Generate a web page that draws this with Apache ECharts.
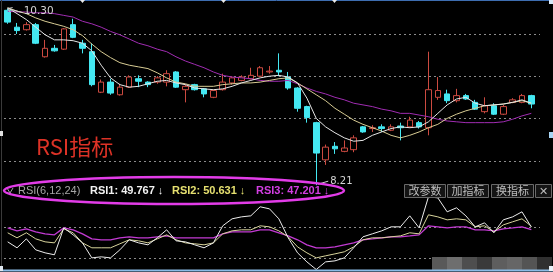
<!DOCTYPE html>
<html><head><meta charset="utf-8">
<script src="https://cdn.jsdelivr.net/npm/echarts@6/dist/echarts.min.js"></script>
<style>html,body{margin:0;padding:0;background:#000;overflow:hidden}#c{width:553px;height:272px}</style>
</head><body><div id="c"></div>
<script>
// ---- data ----
// candles: [open, close, low, high]
const candles = [
[10.28,10.14,10.12,10.30],[10.08,10.04,10.00,10.13],[10.05,10.11,10.04,10.14],[10.11,9.89,9.88,10.13],[9.73,9.83,9.72,9.93],
[9.83,9.80,9.79,9.87],[9.82,10.06,9.81,10.07],[10.11,9.96,9.95,10.18],[9.89,9.83,9.77,9.93],[9.79,9.40,9.38,9.89],
[9.31,9.43,9.30,9.46],[9.43,9.30,9.28,9.47],[9.28,9.37,9.27,9.41],[9.37,9.49,9.36,9.51],[9.47,9.44,9.37,9.51],
[9.43,9.40,9.37,9.44],[9.43,9.48,9.41,9.50],[9.43,9.53,9.38,9.57],[9.55,9.37,9.36,9.56],[9.34,9.38,9.19,9.40],
[9.40,9.34,9.33,9.41],[9.35,9.29,9.25,9.36],[9.25,9.33,9.24,9.34],[9.34,9.43,9.33,9.53],[9.42,9.48,9.40,9.50],
[9.45,9.49,9.44,9.51],[9.47,9.51,9.46,9.60],[9.50,9.60,9.49,9.62],[9.55,9.56,9.53,9.62],[9.57,9.55,9.50,9.77],
[9.49,9.36,9.34,9.55],[9.36,9.12,9.08,9.37],[9.14,9.01,8.95,9.15],[8.95,8.59,8.21,8.96],[8.51,8.66,8.45,8.69],
[8.67,8.64,8.58,8.72],[8.61,8.65,8.60,8.74],[8.63,8.77,8.60,8.80],[8.90,8.84,8.83,8.91],[8.88,8.89,8.84,8.92],
[8.90,8.88,8.84,8.93],[8.86,8.90,8.85,8.93],[8.91,8.89,8.74,8.95],[8.90,8.98,8.89,9.02],[8.95,8.90,8.88,8.97],
[8.89,9.34,8.80,9.79],[9.25,9.33,9.22,9.49],[9.29,9.21,9.18,9.34],[9.21,9.27,9.19,9.35],[9.27,9.23,9.22,9.29],
[9.19,9.11,9.10,9.22],[9.08,9.15,9.06,9.25],[9.15,9.05,9.04,9.18],[9.05,9.14,9.04,9.16],[9.19,9.22,9.18,9.24],
[9.19,9.27,9.18,9.29],[9.27,9.17,9.12,9.28]
];
const ma5 = [10.31,10.24,10.17,10.08,9.99,9.93,9.93,9.92,9.89,9.80,
9.63,9.48,9.40,9.37,9.38,9.41,9.44,9.45,9.42,9.40,
9.36,9.35,9.34,9.35,9.38,9.42,9.45,9.48,9.50,9.51,
9.49,9.42,9.24,9.00,8.90,8.83,8.77,8.73,8.74,8.80,
8.84,8.88,8.90,8.89,8.90,8.96,9.06,9.16,9.23,9.25,
9.18,9.15,9.16,9.17,9.19,9.22,9.18];
const ma10 = [10.31,10.27,10.24,10.19,10.15,10.12,10.09,10.05,9.98,9.88,
9.79,9.72,9.66,9.63,9.61,9.59,9.54,9.48,9.43,9.41,
9.38,9.38,9.38,9.40,9.41,9.42,9.42,9.43,9.45,9.47,
9.48,9.42,9.35,9.28,9.21,9.12,9.05,8.98,8.93,8.89,
8.85,8.80,8.77,8.80,8.84,8.89,8.93,9.00,9.05,9.09,
9.12,9.15,9.16,9.17,9.19,9.21,9.18];
const ma30 = [10.27,10.26,10.26,10.25,10.25,10.24,10.22,10.20,10.15,10.12,
10.08,10.03,9.99,9.94,9.89,9.86,9.82,9.79,9.73,9.68,
9.64,9.60,9.55,9.51,9.49,9.48,9.47,9.45,9.44,9.44,
9.45,9.41,9.36,9.32,9.29,9.25,9.22,9.18,9.16,9.14,
9.11,9.09,9.06,9.06,9.04,9.02,8.99,8.97,8.96,8.95,
8.95,8.95,8.95,8.96,8.99,9.03,9.06];
const rsi1 = [35.4,29.6,38.3,27.6,24.7,22.8,49.0,42.2,34.4,19.8,
20.8,19.8,27.6,37.4,34.4,32.5,39.3,47.1,36.4,35.4,
32.5,29.6,34.4,51.0,57.8,59.7,60.7,69.5,67.5,57.8,
39.3,24.7,15.9,8.5,15.9,16.9,19.8,29.6,40.3,43.2,
46.1,50.0,50.0,60.7,49.0,79.2,78.2,64.6,68.5,60.7,
50.0,53.9,44.2,56.8,59.7,64.6,49.8];
const rsi2 = [44.2,39.3,44.2,38.3,35.4,34.4,48.1,44.2,34.4,29.6,
29.6,29.6,33.5,37.4,36.4,34.4,38.3,42.2,37.4,34.4,
33.5,32.5,34.4,43.2,46.1,47.1,47.1,51.0,50.0,46.1,
40.3,30.5,24.7,19.8,21.8,23.7,25.7,30.5,37.4,39.3,
39.3,40.3,41.2,44.2,43.2,61.7,59.7,56.8,57.8,56.8,
50.0,51.0,45.1,51.9,54.9,57.8,50.6];
const rsi3 = [49.0,46.1,48.1,45.1,43.2,42.2,49.0,47.1,43.2,38.3,
37.4,37.4,39.3,40.3,39.3,39.3,40.3,41.2,39.3,39.3,
39.3,39.3,39.3,43.2,45.1,45.1,45.1,47.1,47.1,44.2,
41.2,37.4,32.5,29.6,29.6,30.5,32.5,34.4,37.4,38.3,
39.3,40.3,40.3,41.2,42.2,51.0,50.0,49.0,50.0,50.0,
47.1,47.1,46.1,48.1,49.0,50.0,47.2];
const categories = candles.map((_, i) => String(i + 1));
const priceLevels = [8.5, 9.0, 9.5, 10.0];
const rsiLevels = [20, 50];
const highMark = { index: 0, value: 10.30, text: '10.30' };
const lowMark = { index: 33, value: 8.21, text: '8.21' };
const rsiParamText = 'RSI(6,12,24)';
const rsiValueTexts = ['RSI1: 49.767 \u2193', 'RSI2: 50.631 \u2193', 'RSI3: 47.201 \u2193'];
const buttonTexts = ['改参数', '加指标', '换指标', '\u2715'];
const titleText = 'RSI指标';

// ---- chart ----
const chart = echarts.init(document.getElementById('c'), null, { renderer: 'canvas' });
const lineS = (data, color, xi, w) => ({
  type: 'line', data, xAxisIndex: xi, yAxisIndex: xi, symbol: 'none', silent: true,
  lineStyle: { color, width: w || 1 }, z: 3
});
chart.setOption({
  animation: false,
  backgroundColor: '#000',
  grid: [
    { left: 3, width: 533, top: 1, height: 185 },
    { left: 3, width: 533, top: 196, height: 74 }
  ],
  xAxis: [
    { type: 'category', data: categories, gridIndex: 0, show: false, boundaryGap: true },
    { type: 'category', data: categories, gridIndex: 1, show: false, boundaryGap: true }
  ],
  yAxis: [
    { type: 'value', gridIndex: 0, min: 8.2, max: 10.39, show: false, splitLine: { show: false } },
    { type: 'value', gridIndex: 1, min: 8, max: 80, show: false, splitLine: { show: false } }
  ],
  series: [
    {
      type: 'candlestick', data: candles, xAxisIndex: 0, yAxisIndex: 0, barWidth: 6, silent: true,
      itemStyle: { color: '#000', color0: '#44e8f2', borderColor: '#cc4a40', borderColor0: '#44e8f2', borderWidth: 1 },
      z: 2
    },
    lineS(ma30, '#a02cb2', 0),
    lineS(ma10, '#d8cc94', 0),
    lineS(ma5, '#e6e6e6', 0),
    lineS(rsi3, '#c23ad2', 1, 1.3),
    lineS(rsi2, '#d8d49c', 1),
    lineS(rsi1, '#ececec', 1)
  ]
});

const hp = chart.convertToPixel({ gridIndex: 0 }, [highMark.index, highMark.value]);
const lp = chart.convertToPixel({ gridIndex: 0 }, [lowMark.index, lowMark.value]);
const g = [];
// dotted level lines placed through the axes' scales
const addLevel = (gi, v) => {
  const p = chart.convertToPixel({ gridIndex: gi }, [0, v]);
  const y = Math.round(p[1]) + 0.5;
  g.push({ type: 'line', silent: true, shape: { x1: 4, y1: y, x2: 540, y2: y },
    style: { stroke: '#8c8c8c', lineWidth: 1, lineDash: [2, 3] }, z: 1 });
};
priceLevels.forEach(v => addLevel(0, v));
rsiLevels.forEach(v => addLevel(1, v));
// frame decorations
g.push({ type: 'line', shape: { x1: 0, y1: 0.5, x2: 553, y2: 0.5 }, style: { stroke: '#3d6db0', lineWidth: 1 }, z: 50 });
g.push({ type: 'line', shape: { x1: 0, y1: 270.5, x2: 553, y2: 270.5 }, style: { stroke: '#8cbce6', lineWidth: 2 }, z: 50 });
g.push({ type: 'line', shape: { x1: 1.5, y1: 0, x2: 1.5, y2: 270 }, style: { stroke: '#3a3a3a', lineWidth: 1 }, z: 50 });
[[80, 0], [221, 0], [332, 0]].forEach(p => g.push({ type: 'polygon', shape: { points: [[p[0], p[1]], [p[0] + 5, p[1]], [p[0] + 2.5, p[1] + 3]] }, style: { fill: '#e8e8e8' }, z: 50 }));
g.push({ type: 'rect', shape: { x: 549, y: 0, width: 4, height: 4 }, style: { fill: '#d8e8f8' }, z: 50 });
g.push({ type: 'rect', shape: { x: 549, y: 132, width: 4, height: 6 }, style: { fill: '#a8d4f4' }, z: 50 });
g.push({ type: 'rect', shape: { x: 0, y: 131, width: 3, height: 5 }, style: { fill: '#e0e0e0' }, z: 50 });
g.push({ type: 'rect', shape: { x: 549, y: 266, width: 4, height: 5 }, style: { fill: '#e8f0f8' }, z: 50 });
g.push({ type: 'rect', shape: { x: 0, y: 266, width: 3, height: 5 }, style: { fill: '#e0e8f0' }, z: 50 });
// mosaic blocks bottom right
const mos = ['#595959', '#6e6e6e', '#4e4e4e', '#3a3a3a', '#5e5e5e', '#666666', '#545454', '#303030'];
mos.forEach((c, i) => g.push({ type: 'rect', shape: { x: 432 + i * 15, y: 257, width: 15, height: 13 }, style: { fill: c }, z: 2 }));
// high / low markers
g.push({ type: 'polyline', shape: { points: [[hp[0], hp[1]], [hp[0] + 15, hp[1] + 4]] }, style: { stroke: '#d0d0d0', lineWidth: 1, fill: null }, z: 60 });
g.push({ type: 'polyline', shape: { points: [[hp[0] + 5, hp[1] - 1], [hp[0], hp[1]], [hp[0] + 3, hp[1] + 4]] }, style: { stroke: '#d0d0d0', lineWidth: 1, fill: null }, z: 60 });
g.push({ type: 'text', x: hp[0] + 16, y: hp[1] + 3, style: { text: highMark.text, fill: '#d4d4d4', font: '10.5px "DejaVu Sans"', verticalAlign: 'middle', align: 'left' }, z: 60 });
g.push({ type: 'polyline', shape: { points: [[lp[0] + 2, lp[1] - 1], [lp[0] + 12, lp[1] - 4]] }, style: { stroke: '#d0d0d0', lineWidth: 1, fill: null }, z: 60 });
g.push({ type: 'text', x: lp[0] + 14, y: lp[1] - 4, style: { text: lowMark.text, fill: '#d4d4d4', font: '10px "DejaVu Sans"', verticalAlign: 'middle', align: 'left' }, z: 60 });
// red title
g.push({ type: 'text', x: 36, y: 147, style: { text: titleText, fill: '#dc3226', font: '22px "Noto Sans CJK SC"', verticalAlign: 'middle' }, z: 60 });
// RSI legend
g.push({ type: 'polyline', shape: { points: [[7, 188], [10, 193], [13, 188]] }, style: { stroke: '#a0a0a0', lineWidth: 1, fill: null }, z: 60 });
g.push({ type: 'text', x: 18, y: 191, style: { text: rsiParamText, fill: '#a6a6a6', font: '11px "Liberation Sans"', verticalAlign: 'middle' }, z: 60 });
const legendCols = ['#f2f2f2', '#e6e070', '#d23ee2'];
const legendX = [90, 172, 256];
rsiValueTexts.forEach((t, i) => g.push({ type: 'text', x: legendX[i], y: 191, style: { text: t, fill: legendCols[i], font: 'bold 11px "Liberation Sans"', verticalAlign: 'middle' }, z: 60 }));
// ellipse highlight
g.push({ type: 'ellipse', shape: { cx: 174, cy: 190.5, rx: 170, ry: 13.5 }, style: { fill: null, stroke: '#e23ce8', lineWidth: 2.5 }, z: 61 });
// buttons
const bx = [[404, 41], [447, 41], [491, 42], [535, 16]];
buttonTexts.forEach((t, i) => {
  g.push({ type: 'rect', shape: { x: bx[i][0] + 0.5, y: 184.5, width: bx[i][1], height: 13 }, style: { fill: '#141414', stroke: '#6a6a6a', lineWidth: 1 }, z: 60 });
  g.push({ type: 'text', x: bx[i][0] + bx[i][1] / 2 + 0.5, y: 191, style: { text: t, fill: '#bdbdbd', font: '11px "Noto Sans CJK SC"', align: 'center', verticalAlign: 'middle' }, z: 61 });
});
chart.setOption({ graphic: g });
</script></body></html>
